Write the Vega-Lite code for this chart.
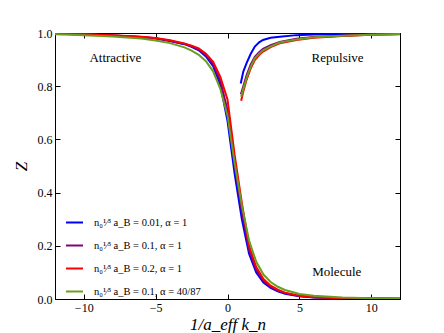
{
  "$schema": "https://vega.github.io/schema/vega-lite/v6.json",
  "width": 345,
  "height": 266,
  "autosize": {"type": "none"},
  "padding": {"left": 55, "top": 33, "right": 44, "bottom": 34},
  "background": "white",
  "config": {
    "view": {"stroke": "black", "strokeWidth": 1},
    "axis": {"labelFont": "Liberation Serif, DejaVu Serif, serif", "labelFontSize": 12, "labelColor": "black", "titleFont": "Liberation Serif, DejaVu Serif, serif", "titleFontStyle": "italic", "titleFontWeight": "normal", "titleColor": "black", "grid": false, "domainColor": "black", "tickColor": "black", "tickSize": -5, "labelPadding": 8, "domain": true}
  },
  "datasets": {
    "curves": [
      {"s":"A","b":"a","x":-12,"y":0.997},{"s":"A","b":"a","x":-10,"y":0.995},{"s":"A","b":"a","x":-8,"y":0.991},{"s":"A","b":"a","x":-6,"y":0.985},{"s":"A","b":"a","x":-5,"y":0.979},{"s":"A","b":"a","x":-4,"y":0.970},{"s":"A","b":"a","x":-3,"y":0.958},{"s":"A","b":"a","x":-2.5,"y":0.948},{"s":"A","b":"a","x":-2,"y":0.935},{"s":"A","b":"a","x":-1.5,"y":0.912},{"s":"A","b":"a","x":-1,"y":0.875},{"s":"A","b":"a","x":-0.5,"y":0.805},{"s":"A","b":"a","x":0,"y":0.67},{"s":"A","b":"a","x":0.5,"y":0.47},{"s":"A","b":"a","x":1,"y":0.30},{"s":"A","b":"a","x":1.5,"y":0.17},{"s":"A","b":"a","x":2,"y":0.10},{"s":"A","b":"a","x":2.5,"y":0.062},{"s":"A","b":"a","x":3,"y":0.042},{"s":"A","b":"a","x":3.5,"y":0.029},{"s":"A","b":"a","x":4,"y":0.020},{"s":"A","b":"a","x":5,"y":0.010},{"s":"A","b":"a","x":6,"y":0.006},{"s":"A","b":"a","x":8,"y":0.0025},{"s":"A","b":"a","x":10,"y":0.0015},{"s":"A","b":"a","x":12,"y":0.001},
      {"s":"A","b":"r","x":0.92,"y":0.81},{"s":"A","b":"r","x":1.1,"y":0.855},{"s":"A","b":"r","x":1.32,"y":0.886},{"s":"A","b":"r","x":1.6,"y":0.92},{"s":"A","b":"r","x":1.9,"y":0.949},{"s":"A","b":"r","x":2.2,"y":0.965},{"s":"A","b":"r","x":2.47,"y":0.974},{"s":"A","b":"r","x":3,"y":0.982},{"s":"A","b":"r","x":3.63,"y":0.986},{"s":"A","b":"r","x":4.8,"y":0.992},{"s":"A","b":"r","x":6,"y":0.994},{"s":"A","b":"r","x":8,"y":0.996},{"s":"A","b":"r","x":10,"y":0.997},{"s":"A","b":"r","x":12,"y":0.998},
      {"s":"B","b":"a","x":-12,"y":0.997},{"s":"B","b":"a","x":-10,"y":0.995},{"s":"B","b":"a","x":-8,"y":0.991},{"s":"B","b":"a","x":-6,"y":0.985},{"s":"B","b":"a","x":-5,"y":0.98},{"s":"B","b":"a","x":-4,"y":0.971},{"s":"B","b":"a","x":-3,"y":0.959},{"s":"B","b":"a","x":-2.5,"y":0.95},{"s":"B","b":"a","x":-2,"y":0.938},{"s":"B","b":"a","x":-1.5,"y":0.917},{"s":"B","b":"a","x":-1,"y":0.884},{"s":"B","b":"a","x":-0.5,"y":0.82},{"s":"B","b":"a","x":0,"y":0.71},{"s":"B","b":"a","x":0.5,"y":0.505},{"s":"B","b":"a","x":1,"y":0.33},{"s":"B","b":"a","x":1.5,"y":0.185},{"s":"B","b":"a","x":2,"y":0.11},{"s":"B","b":"a","x":2.5,"y":0.068},{"s":"B","b":"a","x":3,"y":0.046},{"s":"B","b":"a","x":3.5,"y":0.032},{"s":"B","b":"a","x":4,"y":0.022},{"s":"B","b":"a","x":5,"y":0.011},{"s":"B","b":"a","x":6,"y":0.0065},{"s":"B","b":"a","x":8,"y":0.003},{"s":"B","b":"a","x":10,"y":0.0018},{"s":"B","b":"a","x":12,"y":0.001},
      {"s":"B","b":"r","x":0.93,"y":0.77},{"s":"B","b":"r","x":1.1,"y":0.80},{"s":"B","b":"r","x":1.32,"y":0.84},{"s":"B","b":"r","x":1.6,"y":0.88},{"s":"B","b":"r","x":1.9,"y":0.91},{"s":"B","b":"r","x":2.2,"y":0.928},{"s":"B","b":"r","x":2.47,"y":0.94},{"s":"B","b":"r","x":3,"y":0.954},{"s":"B","b":"r","x":3.63,"y":0.966},{"s":"B","b":"r","x":4.8,"y":0.978},{"s":"B","b":"r","x":6,"y":0.985},{"s":"B","b":"r","x":8,"y":0.99},{"s":"B","b":"r","x":10,"y":0.994},{"s":"B","b":"r","x":12,"y":0.996},
      {"s":"C","b":"a","x":-12,"y":0.997},{"s":"C","b":"a","x":-10,"y":0.995},{"s":"C","b":"a","x":-8,"y":0.992},{"s":"C","b":"a","x":-6,"y":0.986},{"s":"C","b":"a","x":-5,"y":0.981},{"s":"C","b":"a","x":-4,"y":0.973},{"s":"C","b":"a","x":-3,"y":0.961},{"s":"C","b":"a","x":-2.5,"y":0.952},{"s":"C","b":"a","x":-2,"y":0.942},{"s":"C","b":"a","x":-1.5,"y":0.922},{"s":"C","b":"a","x":-1,"y":0.892},{"s":"C","b":"a","x":-0.5,"y":0.835},{"s":"C","b":"a","x":0,"y":0.75},{"s":"C","b":"a","x":0.5,"y":0.54},{"s":"C","b":"a","x":1,"y":0.36},{"s":"C","b":"a","x":1.5,"y":0.20},{"s":"C","b":"a","x":2,"y":0.12},{"s":"C","b":"a","x":2.5,"y":0.075},{"s":"C","b":"a","x":3,"y":0.05},{"s":"C","b":"a","x":3.5,"y":0.035},{"s":"C","b":"a","x":4,"y":0.024},{"s":"C","b":"a","x":5,"y":0.012},{"s":"C","b":"a","x":6,"y":0.007},{"s":"C","b":"a","x":8,"y":0.003},{"s":"C","b":"a","x":10,"y":0.002},{"s":"C","b":"a","x":12,"y":0.001},
      {"s":"C","b":"r","x":0.95,"y":0.745},{"s":"C","b":"r","x":1.1,"y":0.78},{"s":"C","b":"r","x":1.32,"y":0.823},{"s":"C","b":"r","x":1.6,"y":0.865},{"s":"C","b":"r","x":1.9,"y":0.898},{"s":"C","b":"r","x":2.2,"y":0.917},{"s":"C","b":"r","x":2.47,"y":0.93},{"s":"C","b":"r","x":3,"y":0.947},{"s":"C","b":"r","x":3.63,"y":0.961},{"s":"C","b":"r","x":4.8,"y":0.974},{"s":"C","b":"r","x":6,"y":0.982},{"s":"C","b":"r","x":8,"y":0.989},{"s":"C","b":"r","x":10,"y":0.993},{"s":"C","b":"r","x":12,"y":0.995},
      {"s":"D","b":"a","x":-12,"y":0.995},{"s":"D","b":"a","x":-10,"y":0.992},{"s":"D","b":"a","x":-8,"y":0.987},{"s":"D","b":"a","x":-6,"y":0.979},{"s":"D","b":"a","x":-5,"y":0.972},{"s":"D","b":"a","x":-4,"y":0.962},{"s":"D","b":"a","x":-3,"y":0.946},{"s":"D","b":"a","x":-2.5,"y":0.934},{"s":"D","b":"a","x":-2,"y":0.918},{"s":"D","b":"a","x":-1.5,"y":0.894},{"s":"D","b":"a","x":-1,"y":0.856},{"s":"D","b":"a","x":-0.5,"y":0.79},{"s":"D","b":"a","x":0,"y":0.69},{"s":"D","b":"a","x":0.5,"y":0.51},{"s":"D","b":"a","x":1,"y":0.35},{"s":"D","b":"a","x":1.5,"y":0.22},{"s":"D","b":"a","x":2,"y":0.14},{"s":"D","b":"a","x":2.5,"y":0.092},{"s":"D","b":"a","x":3,"y":0.064},{"s":"D","b":"a","x":3.5,"y":0.046},{"s":"D","b":"a","x":4,"y":0.034},{"s":"D","b":"a","x":5,"y":0.019},{"s":"D","b":"a","x":6,"y":0.012},{"s":"D","b":"a","x":8,"y":0.006},{"s":"D","b":"a","x":10,"y":0.003},{"s":"D","b":"a","x":12,"y":0.002},
      {"s":"D","b":"r","x":0.95,"y":0.76},{"s":"D","b":"r","x":1.1,"y":0.79},{"s":"D","b":"r","x":1.32,"y":0.83},{"s":"D","b":"r","x":1.6,"y":0.872},{"s":"D","b":"r","x":1.9,"y":0.905},{"s":"D","b":"r","x":2.2,"y":0.922},{"s":"D","b":"r","x":2.47,"y":0.935},{"s":"D","b":"r","x":3,"y":0.95},{"s":"D","b":"r","x":3.63,"y":0.964},{"s":"D","b":"r","x":4.8,"y":0.976},{"s":"D","b":"r","x":6,"y":0.984},{"s":"D","b":"r","x":8,"y":0.99},{"s":"D","b":"r","x":10,"y":0.993},{"s":"D","b":"r","x":12,"y":0.996}
    ],
    "notes": [
      {"x":-7.8,"y":0.906,"t":"Attractive"},
      {"x":7.66,"y":0.906,"t":"Repulsive"},
      {"x":7.6,"y":0.10,"t":"Molecule"}
    ]
  },
  "layer": [
    {
      "data": {"name": "notes"},
      "mark": {"type": "text", "font": "Liberation Serif, DejaVu Serif, serif", "fontSize": 13, "color": "black"},
      "encoding": {
        "x": {"field": "x", "type": "quantitative", "scale": {"domain": [-12, 12], "nice": false, "zero": false}, "axis": {"values": [-10, -5, 0, 5, 10], "title": "1/a_eff k_n", "titleFontSize": 17, "titlePadding": 3}},
        "y": {"field": "y", "type": "quantitative", "scale": {"domain": [0, 1], "nice": false}, "axis": {"values": [0, 0.2, 0.4, 0.6, 0.8, 1.0], "format": ".1f", "title": "Z", "titleFontSize": 17, "titlePadding": 7}},
        "text": {"field": "t"}
      }
    },
    {
      "data": {"name": "curves"},
      "mark": {"type": "line", "strokeWidth": 2, "clip": true},
      "encoding": {
        "x": {"field": "x", "type": "quantitative", "axis": {"values": [-10, -5, 0, 5, 10], "labelColor": "transparent", "title": " "}},
        "y": {"field": "y", "type": "quantitative", "axis": {"values": [0, 0.2, 0.4, 0.6, 0.8, 1.0], "labelColor": "transparent", "title": " "}},
        "color": {"field": "s", "type": "nominal", "scale": {"domain": ["A", "B", "C", "D"], "range": ["#0000ff", "#800080", "#ff0000", "#6b9e1f"]},
          "legend": {"orient": "none", "legendX": 10, "legendY": 180, "title": null, "symbolType": "stroke", "symbolSize": 289, "symbolStrokeWidth": 2, "labelFont": "Liberation Serif, DejaVu Serif, serif", "labelFontSize": 10.5, "labelColor": "black", "labelOffset": 10, "rowPadding": 8,
            "labelExpr": "datum.label == 'A' ? 'n₀¹⁄³ a_B = 0.01, α = 1' : datum.label == 'B' ? 'n₀¹⁄³ a_B = 0.1, α = 1' : datum.label == 'C' ? 'n₀¹⁄³ a_B = 0.2, α = 1' : 'n₀¹⁄³ a_B = 0.1, α = 40/87'"}},
        "detail": {"field": "b", "type": "nominal"}
      }
    }
  ],
  "resolve": {"axis": {"x": "independent", "y": "independent"}}
}
